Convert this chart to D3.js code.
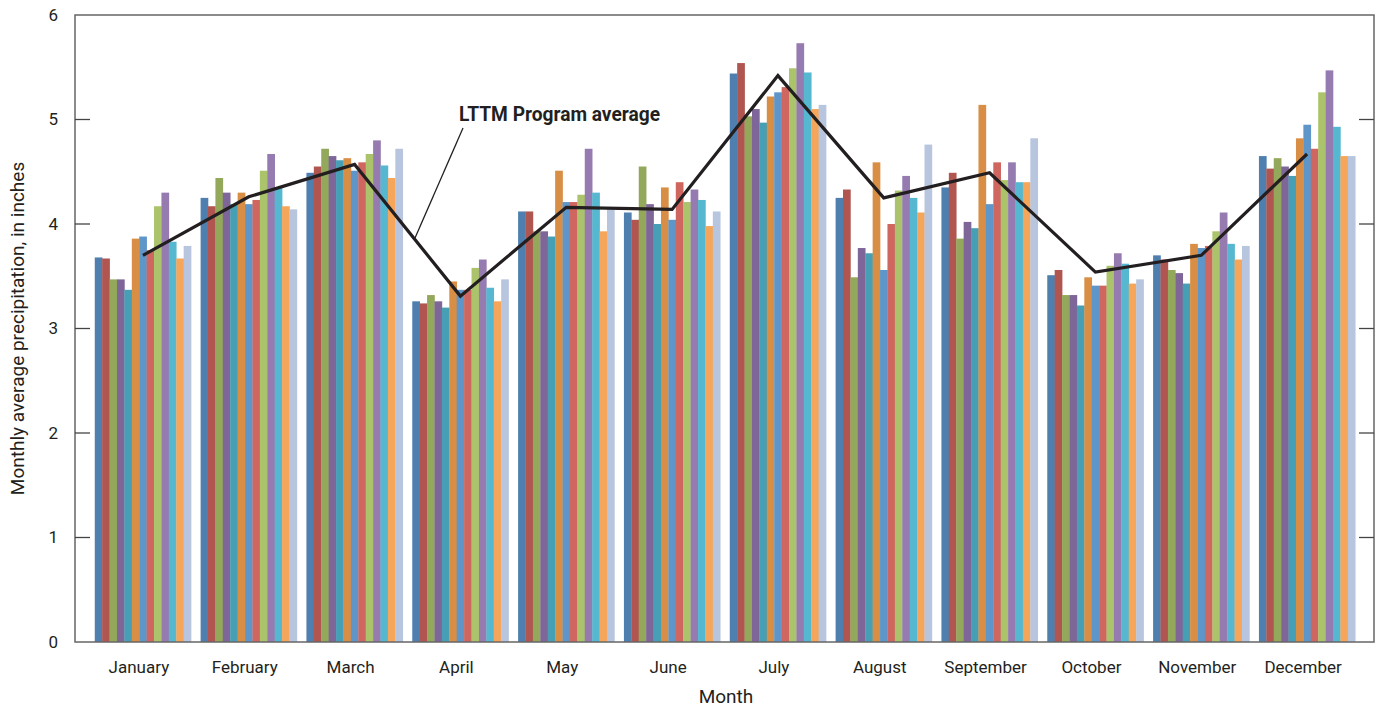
<!DOCTYPE html>
<html>
<head>
<meta charset="utf-8">
<script src="https://cdn.jsdelivr.net/npm/d3@7"></script>
<style>
  body { margin: 0; background: #fff; }
  svg text { font-family: "Liberation Sans Narrow", "Roboto", sans-serif; fill: #231f20; }
</style>
</head>
<body>
<div id="chart"></div>
<script>
// Meses
const months = ["January", "February", "March", "April", "May", "June",
  "July", "August", "September", "October", "November", "December"];

// 13 series (one colour each), values by month
const seriesColors = ["#4f7faf", "#b0554f", "#93a85a", "#7e6698", "#469fb4", "#d88e45",
  "#5e96c9", "#cf6660", "#abc46b", "#957bb0", "#56b8d0", "#f5a65a", "#b8c5de"];

const january   = [3.68, 3.67, 3.47, 3.47, 3.37, 3.86, 3.88, 3.75, 4.17, 4.30, 3.83, 3.67, 3.79];
const february  = [4.25, 4.17, 4.44, 4.30, 4.19, 4.30, 4.19, 4.23, 4.51, 4.67, 4.35, 4.17, 4.14];
const march     = [4.49, 4.55, 4.72, 4.65, 4.61, 4.63, 4.51, 4.59, 4.67, 4.80, 4.56, 4.44, 4.72];
const april     = [3.26, 3.24, 3.32, 3.26, 3.20, 3.45, 3.37, 3.37, 3.58, 3.66, 3.39, 3.26, 3.47];
const may       = [4.12, 4.12, 3.93, 3.93, 3.88, 4.51, 4.21, 4.21, 4.28, 4.72, 4.30, 3.93, 4.15];
const june      = [4.11, 4.04, 4.55, 4.19, 4.00, 4.35, 4.04, 4.40, 4.21, 4.33, 4.23, 3.98, 4.12];
const july      = [5.44, 5.54, 5.03, 5.10, 4.97, 5.22, 5.26, 5.31, 5.49, 5.73, 5.45, 5.10, 5.14];
const august    = [4.25, 4.33, 3.49, 3.77, 3.72, 4.59, 3.56, 4.00, 4.32, 4.46, 4.25, 4.11, 4.76];
const september = [4.35, 4.49, 3.86, 4.02, 3.96, 5.14, 4.19, 4.59, 4.42, 4.59, 4.40, 4.40, 4.82];
const october   = [3.51, 3.56, 3.32, 3.32, 3.22, 3.49, 3.41, 3.41, 3.60, 3.72, 3.62, 3.43, 3.47];
const november  = [3.70, 3.66, 3.56, 3.53, 3.43, 3.81, 3.77, 3.79, 3.93, 4.11, 3.81, 3.66, 3.79];
const december  = [4.65, 4.53, 4.63, 4.55, 4.46, 4.82, 4.95, 4.72, 5.26, 5.47, 4.93, 4.65, 4.65];

const monthValues = [january, february, march, april, may, june,
  july, august, september, october, november, december];

// LTTM Program average
const programAverage = [3.70, 4.26, 4.57, 3.31, 4.16, 4.14, 5.42, 4.25, 4.49, 3.54, 3.70, 4.67];

const yTicks = [0, 1, 2, 3, 4, 5, 6];

const width = 1377, height = 708;
const margin = { left: 75, right: 3, top: 15, bottom: 66 };
const plotRight = width - margin.right;
const plotBottom = height - margin.bottom;

const svg = d3.select("#chart").append("svg")
  .attr("width", width)
  .attr("height", height);

const x = d3.scaleBand()
  .domain(months)
  .range([90, 1360])
  .paddingInner(0.09)
  .paddingOuter(0.045);

const xInner = d3.scaleBand()
  .domain(d3.range(seriesColors.length))
  .range([0, x.bandwidth()]);

const y = d3.scaleLinear()
  .domain([0, 6])
  .range([plotBottom, margin.top]);

// barras
const groups = svg.append("g")
  .selectAll("g")
  .data(months)
  .join("g")
  .attr("transform", d => `translate(${x(d)},0)`);

groups.selectAll("rect")
  .data((d, i) => monthValues[i].map((v, k) => ({ k, v })))
  .join("rect")
  .attr("x", d => xInner(d.k))
  .attr("width", xInner.bandwidth() + 0.3)
  .attr("y", d => y(d.v))
  .attr("height", d => y(0) - y(d.v))
  .attr("fill", d => seriesColors[d.k]);

// marco
svg.append("rect")
  .attr("x", margin.left)
  .attr("y", margin.top)
  .attr("width", plotRight - margin.left)
  .attr("height", plotBottom - margin.top)
  .attr("fill", "none")
  .attr("stroke", "#666")
  .attr("stroke-width", 1.5);

// ticks (inward, both sides)
const tickG = svg.append("g");
yTicks.forEach(t => {
  if (t === 0 || t === 6) return;
  tickG.append("line")
    .attr("x1", margin.left).attr("x2", margin.left + 15)
    .attr("y1", y(t)).attr("y2", y(t))
    .attr("stroke", "#444").attr("stroke-width", 1.3);
  tickG.append("line")
    .attr("x1", plotRight - 15).attr("x2", plotRight)
    .attr("y1", y(t)).attr("y2", y(t))
    .attr("stroke", "#444").attr("stroke-width", 1.3);
});

svg.append("g")
  .selectAll("text")
  .data(yTicks)
  .join("text")
  .attr("x", 58)
  .attr("y", d => y(d))
  .attr("dy", "0.35em")
  .attr("text-anchor", "end")
  .style("font-size", "17px")
  .text(d => d);

svg.append("g")
  .selectAll("text")
  .data(months)
  .join("text")
  .attr("x", d => x(d) + x.bandwidth() / 2 - 4)
  .attr("y", 673)
  .attr("text-anchor", "middle")
  .style("font-size", "17px")
  .text(d => d);

// axis titles
svg.append("text")
  .attr("x", 726)
  .attr("y", 703)
  .attr("text-anchor", "middle")
  .style("font-size", "19px")
  .text("Month");

svg.append("text")
  .attr("transform", `translate(24,${(margin.top + plotBottom) / 2}) rotate(-90)`)
  .attr("text-anchor", "middle")
  .style("font-size", "19px")
  .text("Monthly average precipitation, in inches");

// LTTM average line
const line = d3.line()
  .x((d, i) => x(months[i]) + x.bandwidth() / 2)
  .y(d => y(d));

svg.append("path")
  .datum(programAverage)
  .attr("d", line)
  .attr("fill", "none")
  .attr("stroke", "#231f20")
  .attr("stroke-width", 3.2)
  .attr("stroke-linejoin", "miter");

// annotation
svg.append("line")
  .attr("x1", 463).attr("y1", 128)
  .attr("x2", 415).attr("y2", 238)
  .attr("stroke", "#231f20")
  .attr("stroke-width", 1.3);

svg.append("text")
  .attr("x", 459)
  .attr("y", 121)
  .attr("textLength", 201)
  .attr("lengthAdjust", "spacingAndGlyphs")
  .style("font-size", "21px")
  .style("font-weight", "700")
  .text("LTTM Program average");
</script>
</body>
</html>
